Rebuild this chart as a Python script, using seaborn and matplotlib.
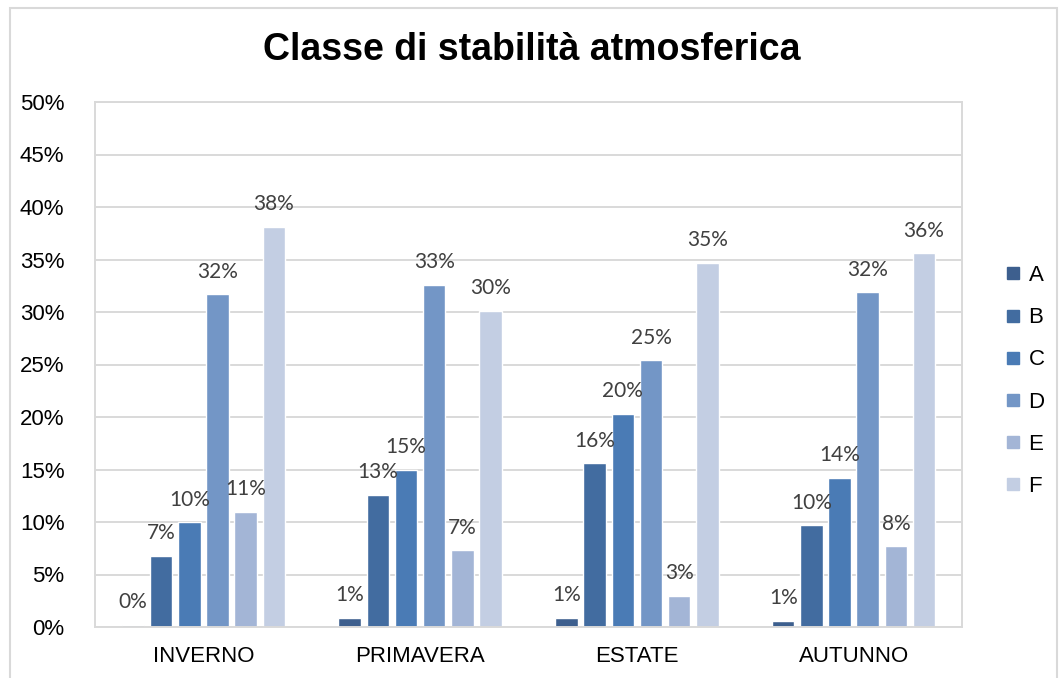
import matplotlib
matplotlib.use("Agg")
import matplotlib.pyplot as plt
import seaborn as sns
import pandas as pd
from matplotlib.lines import Line2D
from matplotlib.patches import Rectangle
from matplotlib.ticker import FixedLocator, FuncFormatter

# Frequency (%) of each atmospheric stability class per season
seasons = ["INVERNO", "PRIMAVERA", "ESTATE", "AUTUNNO"]
classes = ["A", "B", "C", "D", "E", "F"]
class_a = [0.2, 0.9, 0.9, 0.6]
class_b = [6.8, 12.6, 15.6, 9.7]
class_c = [10.0, 15.0, 20.3, 14.2]
class_d = [31.7, 32.6, 25.4, 31.9]
class_e = [11.0, 7.3, 3.0, 7.7]
class_f = [38.1, 30.1, 34.7, 35.6]
y_ticks = [0, 5, 10, 15, 20, 25, 30, 35, 40, 45, 50]

palette = ["#3D5F8E", "#426CA0", "#4A7BB5", "#7396C6", "#A3B5D6", "#C3CEE3"]
title = "Classe di stabilità atmosferica"

series = [class_a, class_b, class_c, class_d, class_e, class_f]
rows = []
for cls, vals in zip(classes, series):
    for season, v in zip(seasons, vals):
        rows.append({"stagione": season, "classe": cls, "valore": v})
df = pd.DataFrame(rows)

sns.set_style("white")
plt.rcParams["font.family"] = ["Liberation Sans", "DejaVu Sans"]
plt.rcParams["text.color"] = "black"

fig = plt.figure(figsize=(10.64, 6.78), dpi=100)
ax = fig.add_axes([95 / 1064, 1 - 627 / 678, (962 - 95) / 1064, (627 - 102) / 678])

sns.barplot(data=df, x="stagione", y="valore", hue="classe",
            order=seasons, hue_order=classes, palette=palette,
            width=0.78, gap=0.2, ax=ax, legend=False, saturation=1)

ax.set_ylim(0, 50)
ax.yaxis.set_major_locator(FixedLocator(y_ticks))
ax.yaxis.set_major_formatter(FuncFormatter(lambda v, _: f"{int(v)}%"))
ax.yaxis.grid(True, color="#D9D9D9", linewidth=1.4)
ax.set_axisbelow(True)
ax.set_xlabel("")
ax.set_ylabel("")
ax.tick_params(axis="both", length=0, labelsize=16, colors="black")
ax.tick_params(axis="y", pad=22)
ax.tick_params(axis="x", pad=14)
for side, sp in ax.spines.items():
    sp.set_visible(True)
    sp.set_color("#D9D9D9")
    sp.set_linewidth(1.4)

for cont in ax.containers:
    labels = [f"{round(v)}%" for v in cont.datavalues]
    ax.bar_label(cont, labels=labels, padding=9, fontsize=15,
                 color="#404040", family=["Lato", "DejaVu Sans"])

handles = [Line2D([0], [0], marker="s", linestyle="none", markersize=8.5,
                  markerfacecolor=c, markeredgecolor=c) for c in palette]
fig.legend(handles, classes, loc="center left",
           bbox_to_anchor=(993 / 1064, 1 - 381 / 678), frameon=False,
           fontsize=16, handletextpad=0.2, labelspacing=0.95,
           handlelength=1.0, borderaxespad=0, labelcolor="black")

fig.text(0.5, 1 - 50 / 678, title, ha="center", va="center",
         fontsize=27, fontweight="bold", color="black")

fig.patches.append(Rectangle((10 / 1064, -0.05), (1057 - 10) / 1064, 1 - 8 / 678 + 0.05,
                             transform=fig.transFigure, fill=False,
                             edgecolor="#D9D9D9", linewidth=1.5))

fig.savefig("out.png", dpi=100)
